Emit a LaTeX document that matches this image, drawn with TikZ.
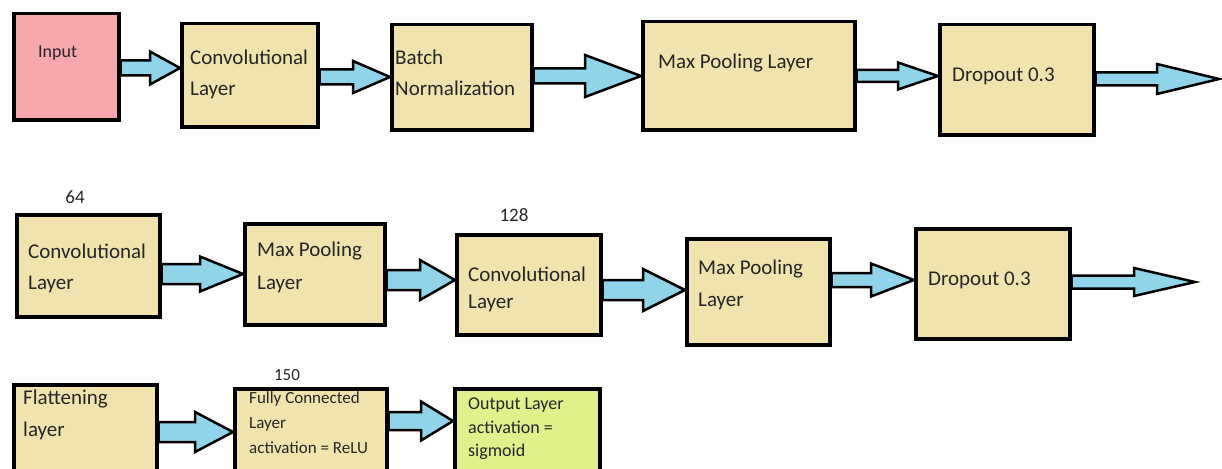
\documentclass[tikz,border=0pt]{standalone}
\usepackage{fontspec}
\setmainfont{Carlito}
\usetikzlibrary{calc}

\definecolor{stagefill}{HTML}{F1E3AD}
\definecolor{inputfill}{HTML}{F6A8AE}
\definecolor{outfill}{HTML}{E0F08A}
\definecolor{arrowfill}{HTML}{8FD4E8}

\tikzset{
  stage/.style={draw=black, line width=3.5pt, fill=stagefill, inner sep=0pt},
  lbl/.style={anchor=north west, inner sep=0pt, align=left, text=black!85,
    font=\fontsize{21}{31}\selectfont},
  num/.style={inner sep=0pt, text=black!85, font=\fontsize{19}{22}\selectfont},
  fat/.style={draw=black, line width=2.5pt, fill=arrowfill, line join=miter},
}

% box from its corners (x1,y1) -- (x2,y2), y measured downwards
\newcommand\stagebox[6]{%
  \node[stage, #2, anchor=north west, minimum width={#5-#3},
    minimum height={#6-#4}] (#1) at (#3,-#4) {};}

% block arrow: from, to, height, shaft half, head half, head length
\newcommand\fatarrow[6]{%
  \draw[fat] let \p1=(#1), \p2=(#2) in
    (\x1,-#3pt+#4pt) -- (\x2-#6pt,-#3pt+#4pt) -- (\x2-#6pt,-#3pt+#5pt)
    -- (\x2,-#3pt) -- (\x2-#6pt,-#3pt-#5pt) -- (\x2-#6pt,-#3pt-#4pt)
    -- (\x1,-#3pt-#4pt) -- cycle;}

\begin{document}
\begin{tikzpicture}[x=1pt, y=1pt]
  \useasboundingbox (0,0) rectangle (1222,-468);

  % first row
  \stagebox{input}{fill=inputfill}{12}{12}{117}{118}
  \stagebox{conv1}{}{180}{22}{316}{125}
  \stagebox{bn}{}{390}{23}{530}{128}
  \stagebox{mp1}{}{641}{20}{853}{128}
  \stagebox{drop1}{}{938}{23}{1092}{133}
  \coordinate (end1) at (1219,-79);

  \node[lbl, font=\fontsize{18}{22}\selectfont] (input-t) at (38,-46) {Input};
  \node[lbl] (conv1-t) at (190,-50) {Convolutional\\Layer};
  \node[lbl] (bn-t) at (395,-50) {Batch\\Normalization};
  \node[lbl] (mp1-t) at (658,-54) {Max Pooling Layer};
  \node[lbl] (drop1-t) at (952,-68) {Dropout 0.3};

  \fatarrow{input.east}{conv1.west}{68}{7.5}{16.5}{30}
  \fatarrow{conv1.east}{bn.west}{77}{7.5}{16}{37}
  \fatarrow{bn.east}{mp1.west}{76}{7.5}{21}{56}
  \fatarrow{mp1.east}{drop1.west}{76}{6}{13.5}{40}
  \fatarrow{drop1.east}{end1}{79}{6.5}{15}{62}

  % second row
  \stagebox{conv64}{}{15}{213}{158}{315}
  \stagebox{mp2}{}{243}{222}{383}{323}
  \stagebox{conv128}{}{455}{233}{599}{333}
  \stagebox{mp3}{}{685}{237}{828}{343}
  \stagebox{drop2}{}{914}{227}{1068}{337}
  \coordinate (end2) at (1195,-282);

  \node[num] (n64) at (75,-197) {64};
  \node[num] (n128) at (514,-215) {128};

  \node[lbl] (conv64-t) at (28,-244) {Convolutional\\Layer};
  \node[lbl, font=\fontsize{21}{33}\selectfont] (mp2-t) at (257,-242) {Max Pooling\\Layer};
  \node[lbl, font=\fontsize{21}{27}\selectfont] (conv128-t) at (468,-267) {Convolutional\\Layer};
  \node[lbl, font=\fontsize{21}{32}\selectfont] (mp3-t) at (698,-260) {Max Pooling\\Layer};
  \node[lbl] (drop2-t) at (928,-272) {Dropout 0.3};

  \fatarrow{conv64.east}{mp2.west}{274}{10}{17.5}{43}
  \fatarrow{mp2.east}{conv128.west}{280}{10}{20}{35}
  \fatarrow{conv128.east}{mp3.west}{290}{10}{21}{42}
  \fatarrow{mp3.east}{drop2.west}{280}{7}{16.5}{43}
  \fatarrow{drop2.east}{end2}{282}{6.5}{14}{61}

  % third row
  \stagebox{flat}{}{12}{383}{155}{475}
  \stagebox{fc}{}{233}{387}{385}{475}
  \stagebox{out}{fill=outfill}{453}{387}{598}{475}

  \node[num, font=\fontsize{17}{20}\selectfont] (n150) at (287,-375) {150};

  \node[lbl, font=\fontsize{21}{32}\selectfont] (flat-t) at (23,-390) {Flattening\\layer};
  \node[lbl, font=\fontsize{17}{25}\selectfont] (fc-t) at (249,-391)
    {Fully Connected\\Layer\\activation = ReLU};
  \node[lbl, font=\fontsize{18}{23.5}\selectfont] (out-t) at (468,-398)
    {Output Layer\\activation =\\sigmoid};

  \fatarrow{flat.east}{fc.west}{432}{10}{20}{38}
  \fatarrow{fc.east}{out.west}{421}{9}{19.5}{32}
\end{tikzpicture}
\end{document}
